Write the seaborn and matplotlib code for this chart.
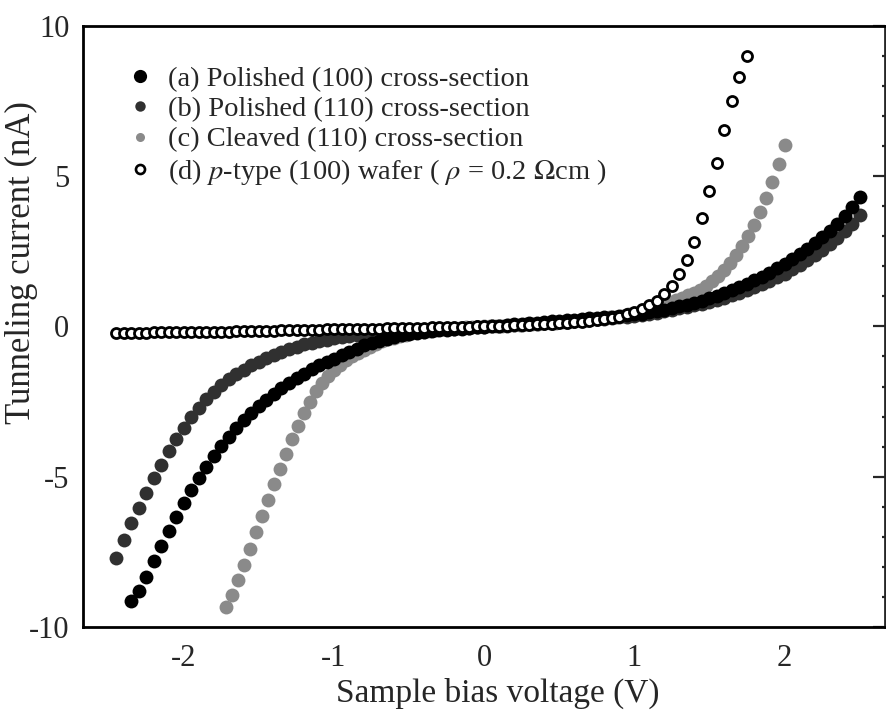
import matplotlib
matplotlib.use("Agg")
import matplotlib.pyplot as plt
import seaborn as sns
from matplotlib.ticker import MultipleLocator
from matplotlib.lines import Line2D

# sample bias (V) and tunneling current (nA)
# (a) polished (100) cross-section
v_a = [-2.35, -2.30, -2.25, -2.20, -2.15, -2.10, -2.05, -2.00, -1.95, -1.90,
       -1.85, -1.80, -1.75, -1.70, -1.65, -1.60, -1.55, -1.50, -1.45, -1.40,
       -1.35, -1.30, -1.25, -1.20, -1.15, -1.10, -1.05, -1.00, -0.95, -0.90,
       -0.85, -0.80, -0.75, -0.70, -0.65, -0.60, -0.55, -0.50, -0.45, -0.40,
       -0.35, -0.30, -0.25, -0.20, -0.15, -0.10, -0.05, 0.00, 0.05, 0.10,
       0.15, 0.20, 0.25, 0.30, 0.35, 0.40, 0.45, 0.50, 0.55, 0.60,
       0.65, 0.70, 0.75, 0.80, 0.85, 0.90, 0.95, 1.00, 1.05, 1.10,
       1.15, 1.20, 1.25, 1.30, 1.35, 1.40, 1.45, 1.50, 1.55, 1.60,
       1.65, 1.70, 1.75, 1.80, 1.85, 1.90, 1.95, 2.00, 2.05, 2.10,
       2.15, 2.20, 2.25, 2.30, 2.35, 2.40, 2.45, 2.50]
i_a = [-9.15, -8.80, -8.35, -7.80, -7.30, -6.80, -6.33, -5.88, -5.46, -5.06,
       -4.68, -4.32, -3.98, -3.67, -3.38, -3.12, -2.88, -2.65, -2.44, -2.24,
       -2.05, -1.88, -1.72, -1.57, -1.43, -1.30, -1.18, -1.07, -0.96, -0.85,
       -0.74, -0.62, -0.54, -0.47, -0.41, -0.35, -0.30, -0.26, -0.22, -0.19,
       -0.16, -0.13, -0.11, -0.09, -0.07, -0.05, -0.03, -0.01, 0.01, 0.03,
       0.05, 0.07, 0.09, 0.11, 0.13, 0.15, 0.17, 0.19, 0.21, 0.23,
       0.25, 0.27, 0.29, 0.31, 0.33, 0.35, 0.37, 0.40, 0.43, 0.47,
       0.51, 0.56, 0.61, 0.67, 0.73, 0.79, 0.86, 0.94, 1.02, 1.11,
       1.21, 1.31, 1.42, 1.54, 1.66, 1.79, 1.93, 2.08, 2.24, 2.41,
       2.59, 2.78, 2.98, 3.19, 3.42, 3.67, 3.96, 4.32]

# (b) polished (110) cross-section
v_b = [-2.45, -2.40, -2.35, -2.30, -2.25, -2.20, -2.15, -2.10, -2.05, -2.00,
       -1.95, -1.90, -1.85, -1.80, -1.75, -1.70, -1.65, -1.60, -1.55, -1.50,
       -1.45, -1.40, -1.35, -1.30, -1.25, -1.20, -1.15, -1.10, -1.05, -1.00,
       -0.95, -0.90, -0.85, -0.80, -0.75, -0.70, -0.65, -0.60, -0.55, -0.50,
       -0.45, -0.40, -0.35, -0.30, -0.25, -0.20, -0.15, -0.10, -0.05, 0.00,
       0.05, 0.10, 0.15, 0.20, 0.25, 0.30, 0.35, 0.40, 0.45, 0.50,
       0.55, 0.60, 0.65, 0.70, 0.75, 0.80, 0.85, 0.90, 0.95, 1.00,
       1.05, 1.10, 1.15, 1.20, 1.25, 1.30, 1.35, 1.40, 1.45, 1.50,
       1.55, 1.60, 1.65, 1.70, 1.75, 1.80, 1.85, 1.90, 1.95, 2.00,
       2.05, 2.10, 2.15, 2.20, 2.25, 2.30, 2.35, 2.40, 2.45, 2.50]
i_b = [-7.70, -7.10, -6.55, -6.05, -5.55, -5.05, -4.60, -4.15, -3.75, -3.38,
       -3.03, -2.70, -2.42, -2.17, -1.95, -1.76, -1.59, -1.44, -1.30, -1.17,
       -1.05, -0.94, -0.84, -0.75, -0.67, -0.60, -0.54, -0.49, -0.44, -0.40,
       -0.36, -0.33, -0.30, -0.27, -0.25, -0.23, -0.21, -0.19, -0.17, -0.15,
       -0.14, -0.12, -0.11, -0.10, -0.08, -0.07, -0.06, -0.05, -0.03, -0.02,
       0.00, 0.02, 0.03, 0.05, 0.06, 0.08, 0.09, 0.11, 0.12, 0.14,
       0.16, 0.18, 0.20, 0.22, 0.24, 0.26, 0.28, 0.30, 0.32, 0.35,
       0.38, 0.42, 0.46, 0.50, 0.55, 0.60, 0.65, 0.70, 0.76, 0.82,
       0.89, 0.96, 1.04, 1.12, 1.21, 1.31, 1.41, 1.52, 1.64, 1.76,
       1.90, 2.05, 2.21, 2.38, 2.56, 2.75, 2.95, 3.17, 3.42, 3.70]

# (c) cleaved (110) cross-section
v_c = [-1.72, -1.68, -1.64, -1.60, -1.56, -1.52, -1.48, -1.44, -1.40, -1.36,
       -1.32, -1.28, -1.24, -1.20, -1.16, -1.12, -1.08, -1.04, -1.00, -0.96,
       -0.92, -0.88, -0.84, -0.80, -0.76, -0.72, -0.68, -0.64, -0.60, -0.56,
       -0.52, -0.48, -0.44, -0.40, -0.36, -0.32, -0.28, -0.24, -0.20, -0.16,
       -0.12, -0.08, -0.04, 0.00, 0.04, 0.08, 0.12, 0.16, 0.20, 0.24,
       0.28, 0.32, 0.36, 0.40, 0.44, 0.48, 0.52, 0.56, 0.60, 0.64,
       0.68, 0.72, 0.76, 0.80, 0.84, 0.88, 0.92, 0.96, 1.00, 1.04,
       1.08, 1.12, 1.16, 1.20, 1.24, 1.28, 1.32, 1.36, 1.40, 1.44,
       1.48, 1.52, 1.56, 1.60, 1.64, 1.68, 1.72, 1.76, 1.80, 1.84,
       1.88, 1.92, 1.96, 2.00]
i_c = [-9.35, -8.95, -8.45, -7.95, -7.40, -6.85, -6.30, -5.78, -5.25, -4.75,
       -4.25, -3.75, -3.30, -2.88, -2.50, -2.15, -1.88, -1.65, -1.45, -1.28,
       -1.12, -1.00, -0.88, -0.77, -0.67, -0.58, -0.50, -0.43, -0.37, -0.32,
       -0.27, -0.23, -0.20, -0.17, -0.14, -0.12, -0.10, -0.08, -0.06, -0.05,
       -0.03, -0.02, -0.01, 0.00, 0.01, 0.02, 0.03, 0.04, 0.05, 0.06,
       0.07, 0.08, 0.09, 0.10, 0.11, 0.12, 0.14, 0.16, 0.18, 0.20,
       0.22, 0.24, 0.26, 0.28, 0.30, 0.33, 0.36, 0.40, 0.44, 0.49,
       0.54, 0.60, 0.66, 0.73, 0.80, 0.87, 0.95, 1.03, 1.12, 1.22,
       1.35, 1.50, 1.67, 1.87, 2.10, 2.37, 2.67, 3.00, 3.38, 3.80,
       4.28, 4.82, 5.40, 6.03]

# (d) p-type (100) wafer
v_d = [-2.45, -2.40, -2.35, -2.30, -2.25, -2.20, -2.15, -2.10, -2.05, -2.00,
       -1.95, -1.90, -1.85, -1.80, -1.75, -1.70, -1.65, -1.60, -1.55, -1.50,
       -1.45, -1.40, -1.35, -1.30, -1.25, -1.20, -1.15, -1.10, -1.05, -1.00,
       -0.95, -0.90, -0.85, -0.80, -0.75, -0.70, -0.65, -0.60, -0.55, -0.50,
       -0.45, -0.40, -0.35, -0.30, -0.25, -0.20, -0.15, -0.10, -0.05, 0.00,
       0.05, 0.10, 0.15, 0.20, 0.25, 0.30, 0.35, 0.40, 0.45, 0.50,
       0.55, 0.60, 0.65, 0.70, 0.75, 0.80, 0.85, 0.90, 0.95, 1.00,
       1.05, 1.10, 1.15, 1.20, 1.25, 1.30, 1.35, 1.40, 1.45, 1.50,
       1.55, 1.60, 1.65, 1.70, 1.75]
i_d = [-0.22, -0.22, -0.21, -0.21, -0.21, -0.20, -0.20, -0.20, -0.19, -0.19,
       -0.19, -0.18, -0.18, -0.18, -0.17, -0.17, -0.16, -0.16, -0.15, -0.15,
       -0.14, -0.14, -0.13, -0.13, -0.12, -0.12, -0.11, -0.11, -0.10, -0.10,
       -0.09, -0.09, -0.08, -0.08, -0.07, -0.07, -0.06, -0.06, -0.05, -0.05,
       -0.04, -0.04, -0.03, -0.03, -0.02, -0.02, -0.01, -0.01, 0.00, 0.00,
       0.01, 0.02, 0.03, 0.04, 0.05, 0.06, 0.07, 0.08, 0.09, 0.10,
       0.12, 0.14, 0.16, 0.18, 0.21, 0.24, 0.28, 0.33, 0.40, 0.48,
       0.58, 0.70, 0.85, 1.07, 1.35, 1.73, 2.21, 2.82, 3.60, 4.50,
       5.45, 6.55, 7.50, 8.30, 9.00]

labels = ["(a) Polished (100) cross-section",
          "(b) Polished (110) cross-section",
          "(c) Cleaved (110) cross-section",
          r"(d) $p$-type (100) wafer ( $\rho$ = 0.2 $\Omega$cm )"]
colors = ["black", "#303030", "#8a8a8a", "white"]

sns.set_style("white")
plt.rcParams["font.family"] = ["Liberation Serif", "DejaVu Serif"]
plt.rcParams["mathtext.fontset"] = "stix"
plt.rcParams["axes.unicode_minus"] = False

fig, ax = plt.subplots(figsize=(8.86, 7.14), dpi=100)
fig.subplots_adjust(left=0.094, right=0.999, top=0.9636, bottom=0.122)

sns.scatterplot(x=v_c, y=i_c, ax=ax, color=colors[2], s=100, linewidth=0,
                zorder=2)
sns.scatterplot(x=v_b, y=i_b, ax=ax, color=colors[1], s=100, linewidth=0,
                zorder=3)
sns.scatterplot(x=v_a, y=i_a, ax=ax, color=colors[0], s=100, linewidth=0,
                zorder=4)
sns.scatterplot(x=v_d, y=i_d, ax=ax, facecolor="white", edgecolor="black",
                s=52, linewidth=2.0, zorder=5)

ax.set_xlim(-2.67, 2.67)
ax.set_ylim(-10, 10)
ax.xaxis.set_major_locator(MultipleLocator(1))
ax.xaxis.set_minor_locator(MultipleLocator(0.5))
ax.yaxis.set_major_locator(MultipleLocator(5))
ax.yaxis.set_minor_locator(MultipleLocator(1))
ax.tick_params(which="both", direction="in", width=1.6, top=False, right=False,
               labelsize=22)
ax.tick_params(which="major", length=14.5)
ax.tick_params(which="minor", length=7.8)
ax.tick_params(axis="y", pad=10)
ax.tick_params(axis="x", pad=12)

for sp in ax.spines.values():
    sp.set_linewidth(2.0)
    sp.set_color("black")
ax.spines["right"].set_visible(False)

# right side: shorter ticks, no labels
sec = ax.secondary_yaxis("right")
sec.yaxis.set_major_locator(MultipleLocator(5))
sec.yaxis.set_minor_locator(MultipleLocator(1))
sec.tick_params(which="both", direction="in", width=1.6, labelright=False)
sec.tick_params(which="major", length=9)
sec.tick_params(which="minor", length=2.5)
sec.spines["right"].set_linewidth(2.0)

ax.set_xlabel("Sample bias voltage (V)", fontsize=24)
ax.set_ylabel("Tunneling current (nA)", fontsize=25)
ax.xaxis.set_label_coords(0.517, -0.084)
ax.yaxis.set_label_coords(-0.056, 0.607)

# legend with marker sizes as in the original key
sizes = [9.5, 7.5, 6.5, 6.5]
handles = []
for k in range(4):
    if k == 3:
        h = Line2D([], [], ls="none", marker="o", ms=sizes[k], mfc="white",
                   mec="black", mew=1.9)
    else:
        h = Line2D([], [], ls="none", marker="o", ms=sizes[k], mfc=colors[k],
                   mec=colors[k], mew=0)
    handles.append(h)
ax.legend(handles, labels, loc="upper left", bbox_to_anchor=(0.039, 0.952),
          frameon=False, fontsize=20.5, handlelength=1.0, handletextpad=0.49,
          labelspacing=0.15, borderaxespad=0)

fig.savefig("out.png", dpi=100)
